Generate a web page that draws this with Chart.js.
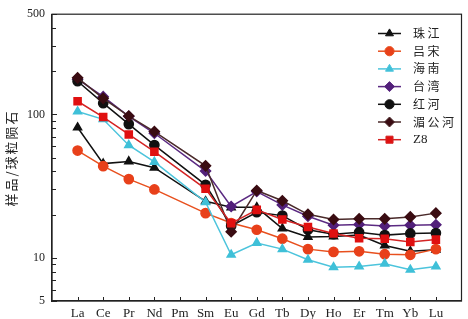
<!DOCTYPE html>
<html>
<head>
<meta charset="utf-8">
<script src="https://cdn.jsdelivr.net/npm/chart.js@4/dist/chart.umd.min.js"></script>
<style>
  html, body { margin: 0; padding: 0; background: #fff; }
  #wrap { width: 468px; height: 319px; }
</style>
</head>
<body>
<div id="wrap"><canvas id="ree-chart" width="468" height="319"></canvas></div>
<script>
// 稀土元素
const elementos = ['La','Ce','Pr','Nd','Pm','Sm','Eu','Gd','Tb','Dy','Ho','Er','Tm','Yb','Lu'];
const yTicks = [5, 10, 100, 500];

// 球粒陨石标准化值 (Pm 无数据)
const zhujiang = [81, 45.4, 47, 42.5, null, 24.8, 22.5, 22.5, 16, 14, 14.1, 14.4, 12.2, 11.1, 11.4];
const lvsong   = [56, 43.6, 35.4, 30, null, 20.5, 17.5, 15.7, 13.6, 11.5, 11, 11.1, 10.6, 10.5, 11.5];
const hainan   = [104.8, 92.5, 61, 46.7, null, 24.4, 10.5, 12.7, 11.5, 9.7, 8.6, 8.7, 9.1, 8.25, 8.7];
const taiwan   = [176, 133, 97, 73.9, null, 40.3, 22.8, 29, 23.4, 19.5, 16.9, 17.1, 16.7, 16.9, 17];
const honghe   = [170.5, 119.8, 85.6, 61.1, null, 32.3, 16.7, 20.8, 19.7, 15.7, 14.6, 15.1, 14.4, 14.8, 14.9];
const meigong  = [180, 129.5, 97.4, 75.9, null, 43.8, 15.2, 29.5, 25, 20.1, 18.5, 18.7, 18.7, 19.3, 20.5];
const z8       = [123.6, 95.9, 72.5, 55, null, 30.3, 17.4, 21.6, 18.5, 16.4, 14.8, 13.7, 13.6, 12.9, 13.4];

const series = [
  {label: '珠江',   data: zhujiang, line: '#111111', fill: '#111111', style: 'triangle', r: 4.6},
  {label: '吕宋',   data: lvsong,   line: '#e8501e', fill: '#e8401a', style: 'circle',   r: 4.6},
  {label: '海南',   data: hainan,   line: '#4cc4dc', fill: '#3fc0d8', style: 'triangle', r: 4.6},
  {label: '台湾',   data: taiwan,   line: '#5b2a82', fill: '#52207a', style: 'rectRot',  r: 5},
  {label: '红河',   data: honghe,   line: '#111111', fill: '#111111', style: 'circle',   r: 4.6},
  {label: '湄公河', data: meigong,  line: '#4a2a2a', fill: '#3a0c12', style: 'rectRot',  r: 5},
  {label: 'Z8',     data: z8,       line: '#d42424', fill: '#e01010', style: 'rect',     r: 5}
];

// puntos {x,y} sobre eje lineal
function toPoints(arr){
  return arr.map((v, i) => ({x: i, y: v}));
}

// marco, ticks hacia dentro, titulo y y leyenda
const extras = {
  id: 'extras',
  afterDraw(chart){
    const ctx = chart.ctx;
    const a = chart.chartArea;
    const xs = chart.scales.x, ys = chart.scales.y;
    ctx.save();
    ctx.strokeStyle = '#222';
    ctx.lineWidth = 1.2;
    ctx.strokeRect(a.left, a.top, a.right - a.left, a.bottom - a.top);

    // ticks eje y
    ctx.lineWidth = 1;
    for (let d = 1; d <= 100; d *= 10){
      for (let k = 1; k <= 9; k++){
        const v = k * d;
        if (v < 5 || v > 500) continue;
        const y = Math.round(ys.getPixelForValue(v)) + 0.5;
        const len = (k === 1 || v === 5 || v === 500) ? 5 : 4;
        ctx.beginPath();
        ctx.moveTo(a.left, y);
        ctx.lineTo(a.left + len, y);
        ctx.stroke();
      }
    }
    // ticks eje x
    elementos.forEach((e, i) => {
      const x = Math.round(xs.getPixelForValue(i)) + 0.5;
      ctx.beginPath();
      ctx.moveTo(x, a.bottom);
      ctx.lineTo(x, a.bottom - 4);
      ctx.stroke();
    });

    // titulo eje y
    ctx.save();
    ctx.translate(11, 158);
    ctx.rotate(-Math.PI / 2);
    ctx.fillStyle = '#222';
    ctx.font = '13px "Noto Sans CJK SC"';
    ctx.textAlign = 'center';
    ctx.textBaseline = 'middle';
    ctx.letterSpacing = '2px';
    ctx.fillText('样品/球粒陨石', 0, 0);
    ctx.restore();

    // leyenda
    const lx = 378, tx = 413, y0 = 33.5, dy = 17.7;
    series.forEach((s, i) => {
      const y = y0 + i * dy;
      ctx.strokeStyle = s.line;
      ctx.lineWidth = 1.5;
      ctx.beginPath();
      ctx.moveTo(lx, y);
      ctx.lineTo(lx + 23, y);
      ctx.stroke();
      ctx.fillStyle = s.fill;
      ctx.lineWidth = 1;
      Chart.helpers.drawPoint(ctx, {pointStyle: s.style, radius: s.r, borderWidth: 1}, lx + 11.5, y);
      ctx.fillStyle = '#222';
      ctx.font = s.label === 'Z8' ? '13px "Liberation Serif"' : '12px "Noto Sans CJK SC"';
      ctx.textBaseline = 'middle';
      ctx.letterSpacing = s.label === 'Z8' ? '0px' : '2.5px';
      ctx.fillText(s.label, tx, y);
    });
    ctx.restore();
  }
};

const ctx = document.getElementById('ree-chart').getContext('2d');
const myChart = new Chart(ctx, {
  type: 'line',
  data: {
    datasets: series.map((s, i) => ({
      label: s.label,
      data: toPoints(s.data),
      borderColor: s.line,
      backgroundColor: s.fill,
      pointBackgroundColor: s.fill,
      pointBorderColor: s.fill,
      pointStyle: s.style,
      pointRadius: s.r,
      borderWidth: 1.5,
      spanGaps: true,
      tension: 0,
      order: series.length - i
    }))
  },
  options: {
    responsive: false,
    animation: false,
    devicePixelRatio: 1,
    layout: { padding: {top: 5, right: 2, left: 0, bottom: 0} },
    plugins: { legend: {display: false}, tooltip: {enabled: false} },
    scales: {
      x: {
        type: 'linear',
        min: -1,
        max: 15,
        afterBuildTicks(scale){ scale.ticks = elementos.map((e, i) => ({value: i})); },
        afterFit(scale){ scale.height = 18; },
        grid: { display: false, drawTicks: false },
        border: { display: true, color: '#222', width: 1.2 },
        ticks: {
          autoSkip: false,
          maxRotation: 0,
          padding: 5,
          color: '#222',
          font: { family: '"Liberation Serif"', size: 13 },
          callback: (v) => elementos[v]
        }
      },
      y: {
        type: 'logarithmic',
        min: 5,
        max: 500,
        afterBuildTicks(scale){ scale.ticks = yTicks.map(v => ({value: v})); },
        afterFit(scale){ scale.width = 52; },
        grid: { display: false, drawTicks: false },
        border: { display: true, color: '#222', width: 1.2 },
        ticks: {
          padding: 7,
          color: '#222',
          font: { family: '"Liberation Serif"', size: 12 },
          callback: (v) => String(v)
        }
      }
    }
  },
  plugins: [extras]
});
</script>
</body>
</html>
